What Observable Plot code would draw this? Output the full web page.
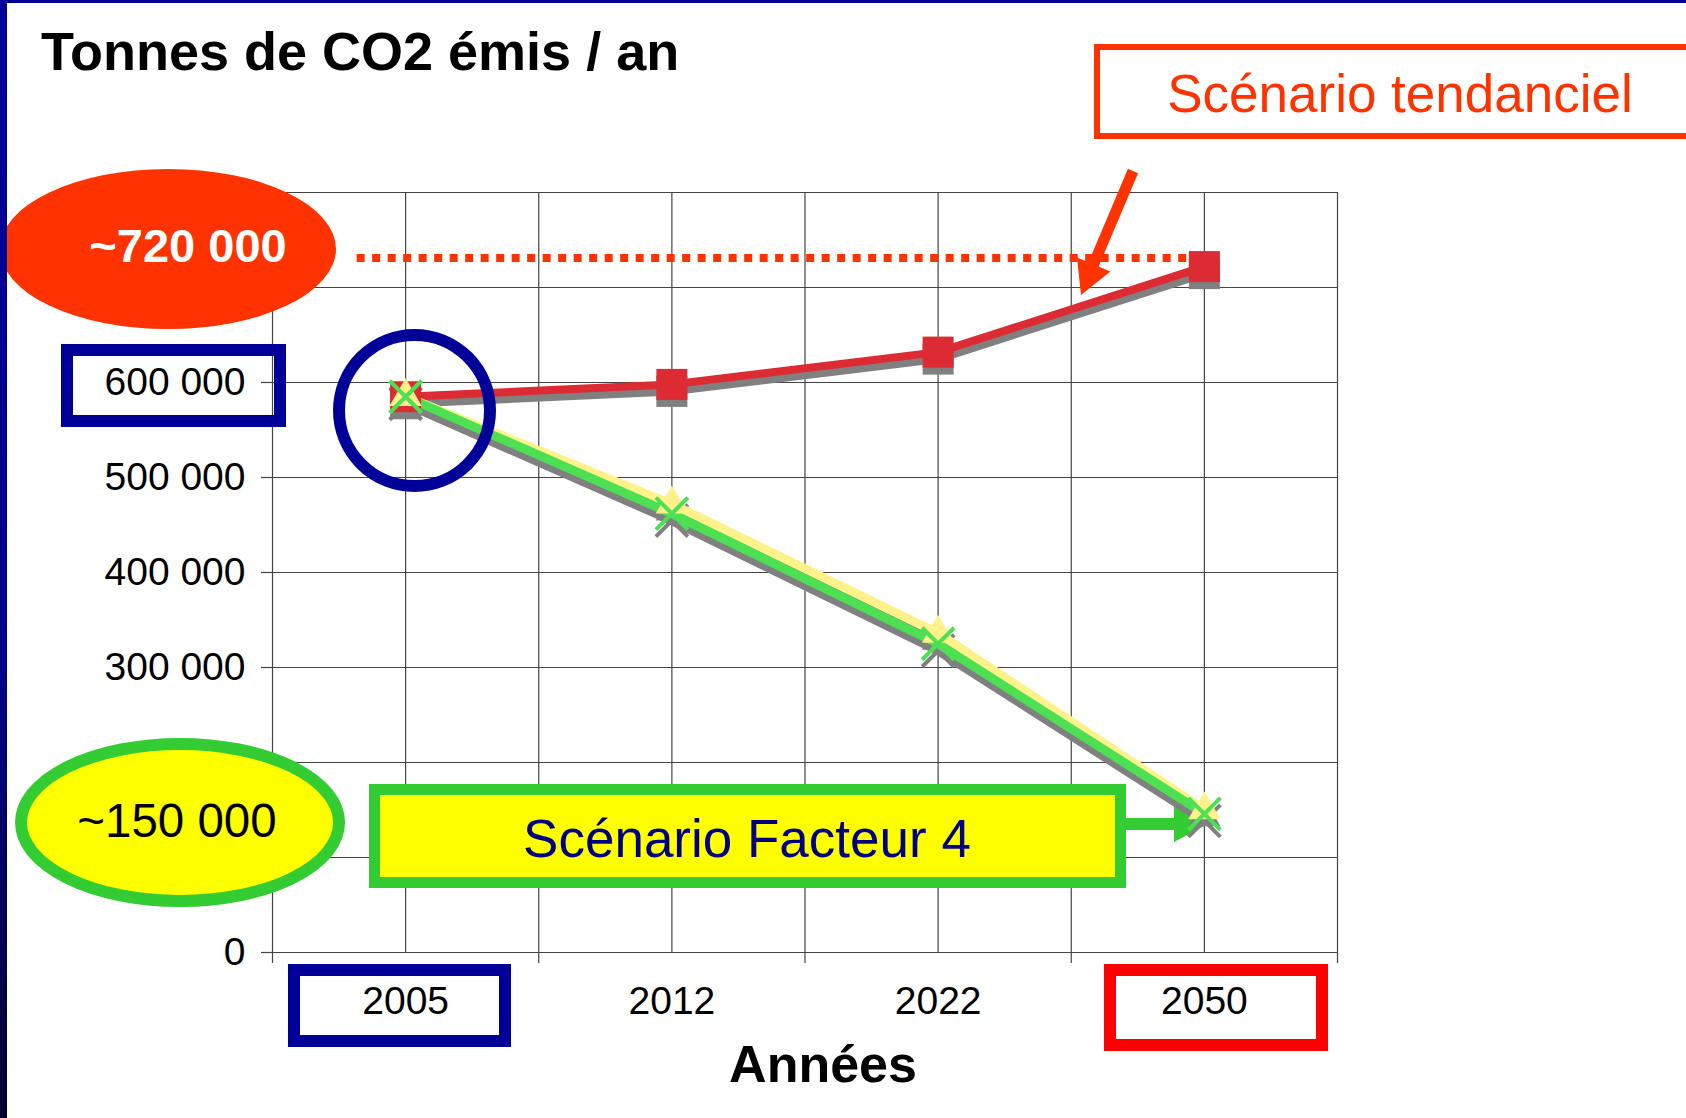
<!DOCTYPE html>
<html>
<head>
<meta charset="utf-8">
<script src="https://cdn.jsdelivr.net/npm/d3@7"></script>
<script src="https://cdn.jsdelivr.net/npm/@observablehq/plot@0.6"></script>
<style>
  html, body { margin: 0; padding: 0; background: #ffffff; overflow: hidden; }
  #page { position: relative; width: 1686px; height: 1118px; font-family: "Liberation Sans", Arial, sans-serif; }
  #chart { position: absolute; left: 0; top: 0; }
  #title { position: absolute; left: 41px; top: 24px; font-size: 54px; line-height: 54px; font-weight: bold; color: #000; white-space: nowrap; }
  #frameTop { position: absolute; left: 0; top: 0; width: 1686px; height: 3px; background: #000090; }
  #frameLeft { position: absolute; left: 0; top: 0; width: 7px; height: 1118px; background: linear-gradient(#00009a, #000088 60%, #000030); }
</style>
</head>
<body>
<div id="page">
  <div id="chart"></div>
  <div id="title">Tonnes de CO2 émis / an</div>
  <div id="frameTop"></div>
  <div id="frameLeft"></div>
</div>
<script>
// ---- data ----
const years = ["2005", "2012", "2022", "2050"];
const tendanciel = [585000, 598000, 632000, 722000];
const facteur4 = [585000, 462000, 325000, 146000];
const facteur4Haut = [585000, 472000, 336000, 150000];
const yTickValues = [0, 300000, 400000, 500000, 600000];
const yGridValues = [0, 100000, 200000, 300000, 400000, 500000, 600000, 700000, 800000];
const plafond = 731000;
const plafondLabel = "~720 000";
const objectifLabel = "~150 000";
const tendancielLabel = "Scénario tendanciel";
const facteurLabel = "Scénario Facteur 4";
const xTitle = "Années";

// ---- tables ----
const rows = vals => vals.map((v, i) => ({pos: i + 0.5, value: v, year: years[i]}));
const redRows = rows(tendanciel);
const greenRows = rows(facteur4);
const yellowRows = rows(facteur4Haut);
const centers = years.map((d, i) => i + 0.5);
const bounds = d3.range(0, years.length + 0.01, 1);
const halfGrid = d3.range(0, years.length + 0.01, 0.5);

const RED = "#dc2b33", GREEN = "#4de052", YEL = "#fff28a", SHADOW = "#808080";
const GRID = "#444444";
const fmt = d => d3.format(",")(d).replace(/,/g, " ");

// ---- callouts (drawn in pixels over the frame) ----
const calloutsBelow = () => {
  const g = d3.create("svg:g");
  g.append("ellipse").attr("cx", 168).attr("cy", 249).attr("rx", 168).attr("ry", 80).attr("fill", "#ff3300");
  g.append("text").attr("x", 188).attr("y", 262).attr("text-anchor", "middle")
    .attr("font-size", 47).attr("font-weight", "bold").attr("fill", "#ffffff").text(plafondLabel);
  g.append("rect").attr("x", 1097).attr("y", 47).attr("width", 700).attr("height", 89)
    .attr("fill", "#ffffff").attr("stroke", "#ff3300").attr("stroke-width", 6);
  g.append("text").attr("x", 1400).attr("y", 112).attr("text-anchor", "middle")
    .attr("font-size", 53).attr("fill", "#ff3300").text(tendancielLabel);
  g.append("line").attr("x1", 1133).attr("y1", 171).attr("x2", 1092).attr("y2", 268)
    .attr("stroke", "#ff3300").attr("stroke-width", 11);
  g.append("polygon").attr("points", "1077,257.6 1110.4,271.6 1081,295").attr("fill", "#ff3300");
  g.append("ellipse").attr("cx", 180).attr("cy", 822.5).attr("rx", 159).attr("ry", 78.5)
    .attr("fill", "#ffff00").attr("stroke", "#33cc33").attr("stroke-width", 12);
  g.append("text").attr("x", 177).attr("y", 837).attr("text-anchor", "middle")
    .attr("font-size", 47.5).attr("fill", "#000000").text(objectifLabel);
  g.append("rect").attr("x", 374.5).attr("y", 789.5).attr("width", 746).attr("height", 93)
    .attr("fill", "#ffff00").attr("stroke", "#33cc33").attr("stroke-width", 11);
  g.append("text").attr("x", 747).attr("y", 857).attr("text-anchor", "middle")
    .attr("font-size", 53).attr("fill", "#000080").text(facteurLabel);
  g.append("line").attr("x1", 1126).attr("y1", 824).attr("x2", 1176).attr("y2", 824)
    .attr("stroke", "#33cc33").attr("stroke-width", 12);
  g.append("polygon").attr("points", "1174,806 1174,842 1208,824").attr("fill", "#33cc33");
  g.append("rect").attr("x", 67).attr("y", 350).attr("width", 213).attr("height", 71)
    .attr("fill", "none").attr("stroke", "#000099").attr("stroke-width", 12);
  g.append("rect").attr("x", 294).attr("y", 970).attr("width", 211).attr("height", 71)
    .attr("fill", "none").attr("stroke", "#000099").attr("stroke-width", 12);
  g.append("rect").attr("x", 1110).attr("y", 970).attr("width", 212).attr("height", 75)
    .attr("fill", "none").attr("stroke", "#ff0000").attr("stroke-width", 12);
  return g.node();
};
const calloutsAbove = () => {
  const g = d3.create("svg:g");
  g.append("circle").attr("cx", 414.5).attr("cy", 410.5).attr("r", 75.5)
    .attr("fill", "none").attr("stroke", "#000099").attr("stroke-width", 12);
  return g.node();
};

const chart = Plot.plot({
  width: 1686,
  height: 1118,
  marginLeft: 272,
  marginRight: 349,
  marginTop: 192,
  marginBottom: 166,
  x: {domain: [0, years.length], label: null},
  y: {domain: [0, 800000], label: null},
  style: {fontFamily: "'Liberation Sans', Arial, sans-serif", background: "#ffffff", color: "#000"},
  marks: [
    Plot.gridY(yGridValues, {stroke: GRID, strokeOpacity: 1, strokeWidth: 1.2}),
    Plot.gridX(halfGrid, {stroke: GRID, strokeOpacity: 1, strokeWidth: 1.2}),
    Plot.axisX(bounds, {tickSize: 11, fill: "none", stroke: GRID, strokeWidth: 1.2, label: null}),
    Plot.axisY(yTickValues, {tickSize: 11, tickPadding: 16, fontSize: 39, tickFormat: fmt, stroke: GRID, strokeWidth: 1.2, fill: "#000", label: null}),
    Plot.axisX(centers, {tickSize: 0, tickPadding: 34, fontSize: 39, tickFormat: d => years[Math.floor(d)], fill: "#000", label: null}),
    Plot.text([xTitle], {text: d => d, frameAnchor: "bottom", dx: 18, dy: 113, fontSize: 52, fontWeight: "bold", fill: "#000", lineAnchor: "middle"}),
    Plot.ruleY([plafond], {x1: 0.318, x2: 3.44, stroke: "#ff3300", strokeWidth: 8, strokeDasharray: "8 7.5"}),
    calloutsBelow,
    // shadows of every series
    Plot.line(redRows, {x: "pos", y: "value", stroke: SHADOW, strokeWidth: 8, dy: 7}),
    Plot.line(yellowRows, {x: "pos", y: "value", stroke: SHADOW, strokeWidth: 9, dy: 7}),
    Plot.line(greenRows, {x: "pos", y: "value", stroke: SHADOW, strokeWidth: 9, dy: 7}),
    Plot.dot(redRows, {x: "pos", y: "value", symbol: "square", r: 17.5, fill: SHADOW, dy: 7}),
    Plot.dot(yellowRows, {x: "pos", y: "value", symbol: "triangle", r: 12, fill: SHADOW, dy: 7}),
    Plot.dot(greenRows, {x: "pos", y: "value", symbol: "times", r: 14.6, stroke: SHADOW, strokeWidth: 4, dy: 7}),
    // lines
    Plot.line(redRows, {x: "pos", y: "value", stroke: RED, strokeWidth: 8}),
    Plot.line(yellowRows, {x: "pos", y: "value", stroke: YEL, strokeWidth: 9}),
    Plot.line(greenRows, {x: "pos", y: "value", stroke: GREEN, strokeWidth: 9}),
    // markers
    Plot.dot(redRows, {x: "pos", y: "value", symbol: "square", r: 17.5, fill: RED}),
    Plot.dot(yellowRows, {x: "pos", y: "value", symbol: "triangle", r: 12, fill: YEL}),
    Plot.dot(greenRows, {x: "pos", y: "value", symbol: "times", r: 14.6, stroke: GREEN, strokeWidth: 4}),
    calloutsAbove
  ]
});
document.getElementById("chart").appendChild(chart);
</script>
</body>
</html>
